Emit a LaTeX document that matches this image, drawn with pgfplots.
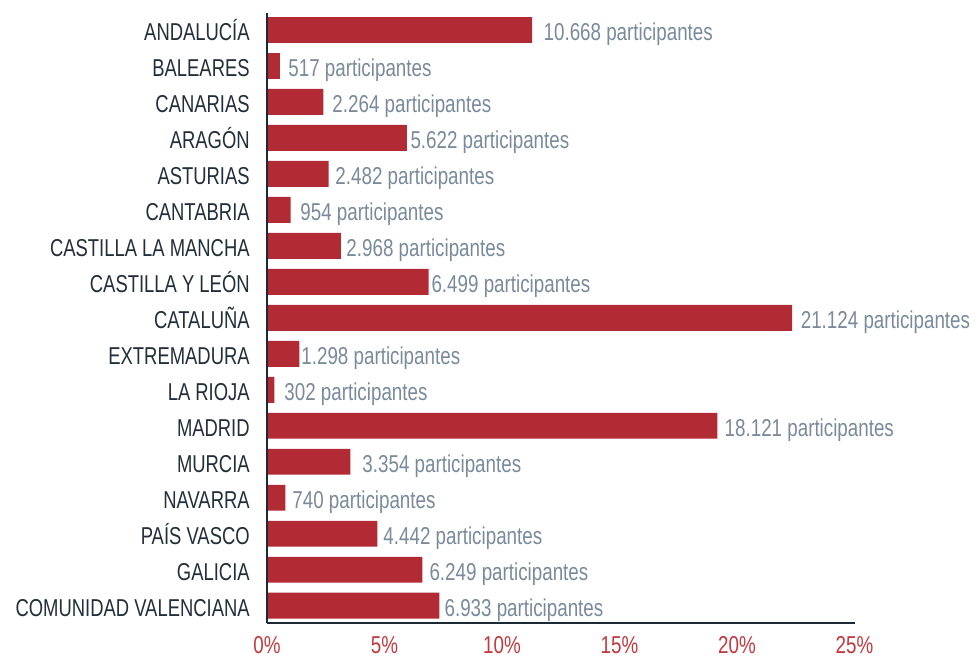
\documentclass[border=0pt]{standalone}
\usepackage{fontspec}
\setmainfont{Liberation Sans}[FakeStretch=0.77]
\newfontfamily\catfont{Liberation Sans}[FakeStretch=0.755]
\usepackage{pgfplots}
\usepackage{pgfplotstable}
\pgfplotsset{compat=1.18}
\definecolor{barred}{HTML}{B22A33}
\definecolor{lblgray}{HTML}{7A8A9B}
\definecolor{catdark}{HTML}{222E3A}
\definecolor{tickred}{HTML}{C0393F}
\definecolor{axdark}{HTML}{1C2A36}

\pgfplotstableread[col sep=comma]{
y,pct,labx,label
16,11.284,11.755,10.668 participantes
15,0.547,0.894,517 participantes
14,2.395,2.768,2.264 participantes
13,5.947,6.090,5.622 participantes
12,2.625,2.896,2.482 participantes
11,1.009,1.405,954 participantes
10,3.140,3.365,2.968 participantes
9,6.875,6.985,6.499 participantes
8,22.345,22.700,21.124 participantes
7,1.373,1.448,1.298 participantes
6,0.319,0.724,302 participantes
5,19.168,19.460,18.121 participantes
4,3.548,4.046,3.354 participantes
3,0.783,1.065,740 participantes
2,4.699,4.940,4.442 participantes
1,6.610,6.900,6.249 participantes
0,7.334,7.540,6.933 participantes
}\datatable

\begin{document}
\fontsize{12.2pt}{14pt}\selectfont
\begin{tikzpicture}
\useasboundingbox (-133.5pt,-16.35pt) rectangle (355.5pt,311.65pt);
\begin{axis}[
  at={(0,0)}, anchor=south west,
  scale only axis, width=293.75pt, height=305.15pt,
  xmin=0, xmax=25, ymin=-0.489, ymax=16.4725,
  axis x line*=bottom, axis y line*=left,
  axis line style={-, draw=axdark, line width=0.8pt},
  xtick={0,5,...,25}, ytick={0,...,16},
  yticklabels={COMUNIDAD VALENCIANA, GALICIA, PAÍS VASCO, NAVARRA, MURCIA, MADRID, LA RIOJA, EXTREMADURA, CATALUÑA, CASTILLA Y LEÓN, CASTILLA LA MANCHA, CANTABRIA, ASTURIAS, ARAGÓN, CANARIAS, BALEARES, ANDALUCÍA},
  major tick length=0pt,
  xticklabel={\pgfmathprintnumber{\tick}\%},
  /pgf/number format/assume math mode=true,
  xticklabel style={text=tickred, yshift=-2.4pt},
  yticklabel style={text=catdark, font=\catfont, anchor=base east, yshift=-5.5pt, xshift=-4.4pt},
  axis on top, clip=false,
]
\addplot[xbar, bar width=0.72, fill=barred, draw=none] table[x=pct, y=y] {\datatable};
\addplot[only marks, mark=*, mark size=0pt, mark options={draw=none, fill=none},
  nodes near coords, point meta=explicit symbolic,
  every node near coord/.append style={text=lblgray, anchor=base west, inner sep=0pt, yshift=-5.4pt}]
  table[x=labx, y=y, meta=label] {\datatable};
\end{axis}
\end{tikzpicture}
\end{document}
